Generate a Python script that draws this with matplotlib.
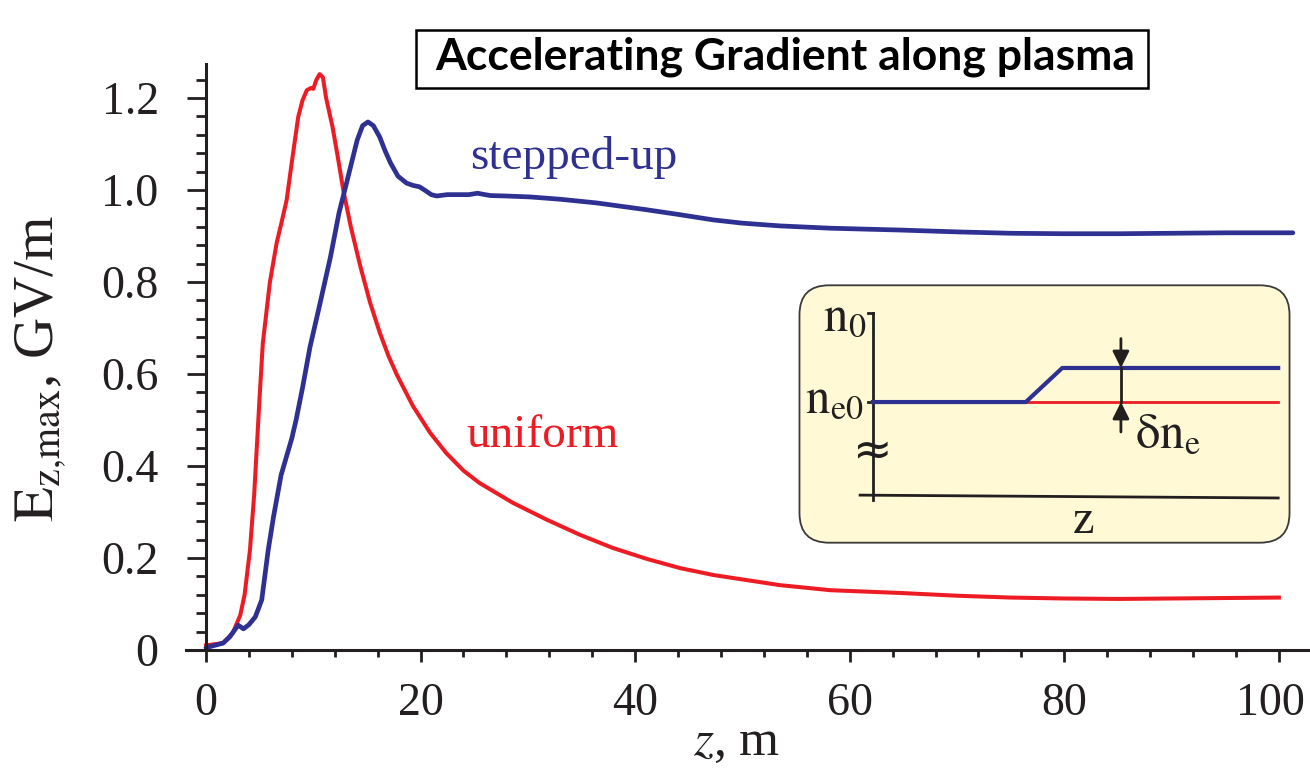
import numpy as np
import matplotlib
matplotlib.use("Agg")
import matplotlib.pyplot as plt
from matplotlib.patches import FancyBboxPatch, Rectangle
from matplotlib.ticker import MultipleLocator
from matplotlib.transforms import ScaledTranslation

# data
z_uniform = [0, 1.6, 2.5, 3.2, 3.6, 4.1, 4.5, 5.0, 5.3, 5.96, 6.59, 7.0, 7.52, 8.0, 8.6,
             9.0, 9.4, 9.8, 10.0, 10.3, 10.6, 10.9, 11.2, 11.8, 12.3, 12.8, 13.5, 14.4,
             15.3, 16.2, 17.0, 17.8, 19.3, 20.9, 22.4, 24, 25.5, 28.6, 31.7, 34.9, 37.9,
             41.1, 44.2, 47.3, 50.4, 53.5, 58.2, 64.7, 70, 75, 80, 85, 90, 95, 100]
E_uniform = [0.01, 0.015, 0.037, 0.076, 0.12, 0.217, 0.34, 0.55, 0.667, 0.80, 0.885, 0.925,
             0.978, 1.06, 1.159, 1.195, 1.217, 1.222, 1.22, 1.24, 1.252, 1.245, 1.2, 1.137,
             1.07, 1.0, 0.92, 0.833, 0.755, 0.69, 0.64, 0.598, 0.53, 0.472, 0.428, 0.39,
             0.363, 0.32, 0.284, 0.25, 0.222, 0.198, 0.178, 0.163, 0.152, 0.141, 0.13,
             0.124, 0.118, 0.114, 0.112, 0.111, 0.112, 0.113, 0.114]

z_stepped = [0, 1.6, 2.2, 3.0, 3.5, 4.0, 4.6, 5.2, 5.8, 6.3, 7.0, 8.0, 8.4, 9.0, 9.7, 10.5,
             11.6, 12.4, 13.1, 14.1, 14.6, 15.1, 15.6, 16.2, 16.7, 17.2, 17.9, 18.7, 19.3,
             19.9, 20.5, 21.0, 21.5, 22.5, 23.5, 24.5, 25.3, 26.5, 28, 30.2, 33, 36.4, 41.1,
             44, 47.3, 50, 53.5, 58.2, 64.7, 70, 75, 80, 85, 90, 95, 101.3]
E_stepped = [0.005, 0.015, 0.028, 0.054, 0.046, 0.055, 0.072, 0.109, 0.217, 0.29, 0.38, 0.46,
             0.5, 0.57, 0.659, 0.74, 0.854, 0.95, 1.015, 1.109, 1.14, 1.148, 1.14, 1.115,
             1.085, 1.059, 1.03, 1.015, 1.01, 1.007, 0.998, 0.99, 0.987, 0.99, 0.99, 0.99,
             0.993, 0.988, 0.987, 0.985, 0.98, 0.972, 0.957, 0.947, 0.935, 0.928, 0.922,
             0.917, 0.913, 0.909, 0.906, 0.905, 0.905, 0.906, 0.907, 0.907]

x_ticks = [0, 20, 40, 60, 80, 100]
y_ticks = [0, 0.2, 0.4, 0.6, 0.8, 1.0, 1.2]
y_ticklabels = ['0', '0.2', '0.4', '0.6', '0.8', '1.0', '1.2']

# inset schematic (box units 0..1)
step_x = [0.152, 0.462, 0.536, 0.974]
step_y = [0.546, 0.546, 0.677, 0.677]
flat_x = [0.462, 0.974]
flat_y = [0.546, 0.546]

RED = '#ED1C24'
BLUE = '#2E3192'
INK = '#231F20'

plt.rcParams['font.family'] = ['Liberation Serif', 'DejaVu Serif']
plt.rcParams['mathtext.fontset'] = 'stix'

fig = plt.figure(figsize=(13.1, 7.68), dpi=100)
ax = fig.add_axes([186 / 1310, 118 / 768, 1124 / 1310, 586 / 768])

ax.plot(z_uniform, E_uniform, color=RED, lw=2.9, solid_joinstyle='round')
ax.plot(z_stepped, E_stepped, color=BLUE, lw=3.4, solid_joinstyle='round',
        solid_capstyle='round')

ax.set_xlim(-1.86, 102.9)
ax.set_ylim(0, 1.274)

for s in ['top', 'right']:
    ax.spines[s].set_visible(False)
ax.spines['left'].set_position(('data', 0))
for s in ['left', 'bottom']:
    ax.spines[s].set_linewidth(2.2)
    ax.spines[s].set_color(INK)

ax.set_xticks(x_ticks)
ax.set_yticks(y_ticks)
ax.set_yticklabels(y_ticklabels)
ax.xaxis.set_minor_locator(MultipleLocator(4))
ax.yaxis.set_minor_locator(MultipleLocator(0.04))
ax.tick_params(axis='x', which='major', direction='out', length=8.5, width=2,
               labelsize=33, pad=15, colors=INK)
ax.tick_params(axis='x', which='minor', direction='out', length=5, width=2, colors=INK)
ax.tick_params(axis='y', which='major', direction='out', length=14, width=2,
               labelsize=33, pad=20, colors=INK)
ax.tick_params(axis='y', which='minor', direction='out', length=7, width=2, colors=INK)

# last x label sits a little left of its tick, as in the original
last = ax.xaxis.get_major_ticks()[-1].label1
last.set_transform(last.get_transform() + ScaledTranslation(-6 / 72, 0, fig.dpi_scale_trans))

ax.set_xlabel(r'$z$, m', fontsize=37, color=INK)
ax.xaxis.set_label_coords(0.49, -0.118)
ax.set_ylabel(r'$\mathrm{E}_{\mathrm{z{,}max}}$, GV/m', fontsize=41, color=INK)
ax.yaxis.set_label_coords(-0.105, 0.48)

ax.text(24.6, 1.07, 'stepped-up', color=BLUE, fontsize=34, va='center', ha='left')
ax.text(24.3, 0.465, 'uniform', color=RED, fontsize=34, va='center', ha='left')

# title box
fig.patches.append(Rectangle((416 / 1310, (768 - 88) / 768), 732 / 1310, 58 / 768,
                             transform=fig.transFigure, fill=False, ec='black', lw=1.8))
fig.text(785 / 1310, (768 - 57) / 768, 'Accelerating Gradient along plasma',
         fontsize=32, fontweight='bold', family=['Lato', 'DejaVu Sans'],
         ha='center', va='center')

# inset
ins = fig.add_axes([798 / 1310, 224 / 768, 493 / 1310, 260 / 768])
ins.set_xlim(0, 1)
ins.set_ylim(0, 1)
ins.axis('off')
ins.add_patch(FancyBboxPatch((0.003, 0.005), 0.994, 0.99,
                             boxstyle='round,pad=0,rounding_size=0.06',
                             mutation_aspect=493 / 260,
                             fc='#FFF9D5', ec='#3a3a3a', lw=1.3, clip_on=False))
ins.plot([0.152, 0.152], [0.169, 0.888], color=INK, lw=2)
ins.plot([0.142, 0.152], [0.888, 0.888], color=INK, lw=2)
ins.plot([0.142, 0.152], [0.546, 0.546], color=INK, lw=2)
ins.plot([0.126, 0.974], [0.188, 0.177], color=INK, lw=2)
ins.plot(flat_x, flat_y, color=RED, lw=2)
ins.plot(step_x, step_y, color=BLUE, lw=3)
ins.text(0.152, 0.35, '≈', fontsize=34, ha='center', va='center', color=INK,
         family=['DejaVu Sans'])
ins.plot([0.655, 0.655], [0.677, 0.546], color=INK, lw=2)
ins.annotate('', xy=(0.655, 0.677), xytext=(0.655, 0.79),
             arrowprops=dict(arrowstyle='-|>', color=INK, lw=2, mutation_scale=25,
                             shrinkA=0, shrinkB=0))
ins.annotate('', xy=(0.655, 0.546), xytext=(0.655, 0.431),
             arrowprops=dict(arrowstyle='-|>', color=INK, lw=2, mutation_scale=25,
                             shrinkA=0, shrinkB=0))
ins.text(0.05, 0.823, r'$\mathrm{n}_{0}$', fontsize=35, ha='left', va='baseline', color=INK)
ins.text(0.015, 0.508, r'$\mathrm{n}_{\mathrm{e0}}$', fontsize=35, ha='left', va='baseline',
         color=INK)
ins.text(0.684, 0.373, r'$\mathrm{δn}_{\mathrm{e}}$', fontsize=35, ha='left', va='baseline',
         color=INK)
ins.text(0.58, 0.042, 'z', fontsize=35, ha='center', va='baseline', color=INK)

fig.savefig('out.png', dpi=100)
